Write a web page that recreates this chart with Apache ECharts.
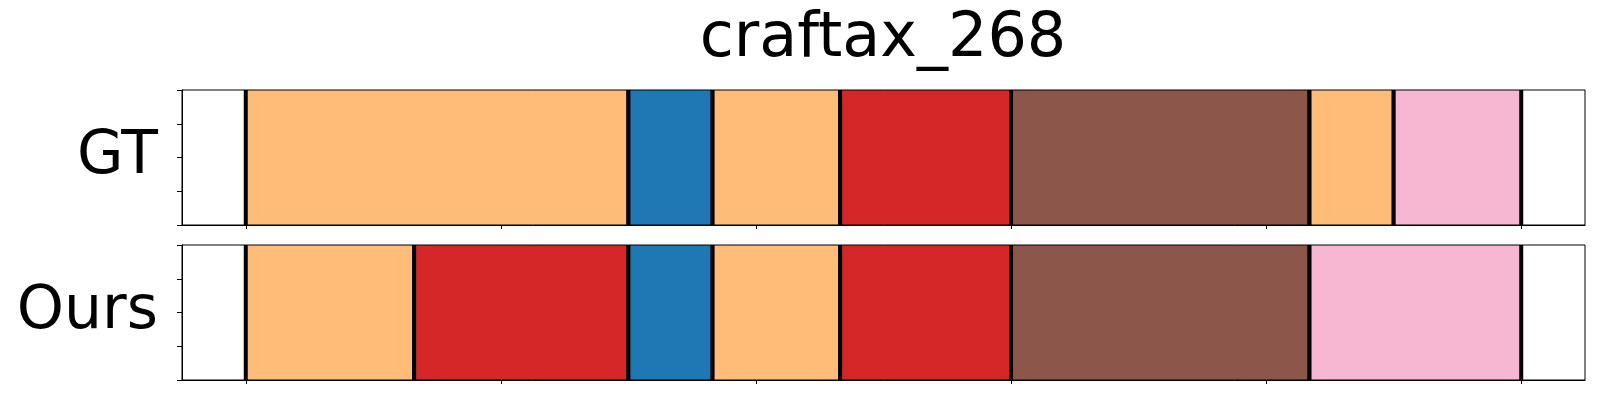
<!DOCTYPE html>
<html>
<head>
<meta charset="utf-8">
<script src="https://cdn.jsdelivr.net/npm/echarts@6/dist/echarts.min.js"></script>
<style>
html,body{margin:0;padding:0;background:#fff;}
#chart{width:1600px;height:400px;}
</style>
</head>
<body>
<div id="chart"></div>
<script>
// ---- data ----
const chartTitle = 'craftax_268';
const rowNames = ['GT', 'Ours'];
const gtBoundaries = [0, 150, 183, 233, 300, 417, 450, 500];
const gtClasses = ['orange', 'blue', 'orange', 'red', 'brown', 'orange', 'pink'];
const oursBoundaries = [0, 66, 150, 183, 233, 300, 417, 500];
const oursClasses = ['orange', 'red', 'blue', 'orange', 'red', 'brown', 'pink'];
const xTickValues = [0, 100, 200, 300, 400, 500];
const yTickValues = [0, 0.25, 0.5, 0.75, 1];
const classColors = {
  orange: '#ffbb78',
  blue: '#1f77b4',
  red: '#d62728',
  brown: '#8c564b',
  pink: '#f7b6d2'
};

function segs(bounds, classes) {
  const out = [];
  for (let i = 0; i < classes.length; i++) {
    out.push({ value: [bounds[i], bounds[i + 1], 0, 1], cls: classes[i] });
  }
  return out;
}

const xMin = -25, xMax = 525;
const font = 'DejaVu Sans';
const grids = [
  { left: 182, right: 15, top: 90, height: 135 },
  { left: 182, right: 15, top: 245, height: 135 }
];

function renderSeg(params, api) {
  const x0 = api.value(0), x1 = api.value(1);
  const p0 = api.coord([x0, 1]);
  const p1 = api.coord([x1, 0]);
  const color = api.visual('color');
  const top = p0[1], bottom = p1[1];
  return {
    type: 'group',
    children: [
      { type: 'rect', shape: { x: p0[0], y: top, width: p1[0] - p0[0], height: bottom - top },
        style: { fill: color, stroke: null } },
      { type: 'line', shape: { x1: p0[0], y1: top, x2: p0[0], y2: bottom },
        style: { stroke: '#000', lineWidth: 4 } },
      { type: 'line', shape: { x1: p1[0], y1: top, x2: p1[0], y2: bottom },
        style: { stroke: '#000', lineWidth: 4 } }
    ]
  };
}

function mkData(bounds, classes) {
  return segs(bounds, classes).map(d => ({ value: d.value, itemStyle: { color: classColors[d.cls] } }));
}

const option = {
  animation: false,
  backgroundColor: '#fff',
  title: {
    text: chartTitle,
    left: 878, top: 4, textAlign: 'center',
    textStyle: { fontFamily: font, fontSize: 62, fontWeight: 'normal', color: '#000' }
  },
  grid: grids.map(g => Object.assign({ show: true, borderColor: '#000', borderWidth: 1, z: 10, backgroundColor: 'transparent' }, g)),
  xAxis: [0, 1].map(i => ({
    type: 'value', gridIndex: i, min: xMin, max: xMax, z: 10,
    splitLine: { show: false },
    axisLine: { show: true, onZero: false, lineStyle: { color: '#000', width: 1 } },
    axisTick: { show: true, customValues: xTickValues, length: 4, lineStyle: { color: '#000', width: 1 } },
    axisLabel: { show: false }
  })),
  yAxis: [0, 1].map(i => ({
    type: 'value', gridIndex: i, min: 0, max: 1, interval: 0.25, z: 10,
    name: rowNames[i], nameLocation: 'middle', nameRotate: 0, nameGap: 24,
    nameTextStyle: { fontFamily: font, fontSize: 60, color: '#000', align: 'right', verticalAlign: 'middle' },
    splitLine: { show: false },
    axisLine: { show: true, onZero: false, lineStyle: { color: '#000', width: 1 } },
    axisTick: { show: true, inside: false, customValues: yTickValues, length: 5, lineStyle: { color: '#000', width: 1 } },
    axisLabel: { show: false }
  })),
  series: [
    { type: 'custom', xAxisIndex: 0, yAxisIndex: 0, renderItem: renderSeg, encode: { x: [0, 1], y: [2, 3] }, data: mkData(gtBoundaries, gtClasses), clip: true },
    { type: 'custom', xAxisIndex: 1, yAxisIndex: 1, renderItem: renderSeg, encode: { x: [0, 1], y: [2, 3] }, data: mkData(oursBoundaries, oursClasses), clip: true }
  ]
};

const chart = echarts.init(document.getElementById('chart'), null, { renderer: 'canvas' });
chart.setOption(option);
</script>
</body>
</html>
